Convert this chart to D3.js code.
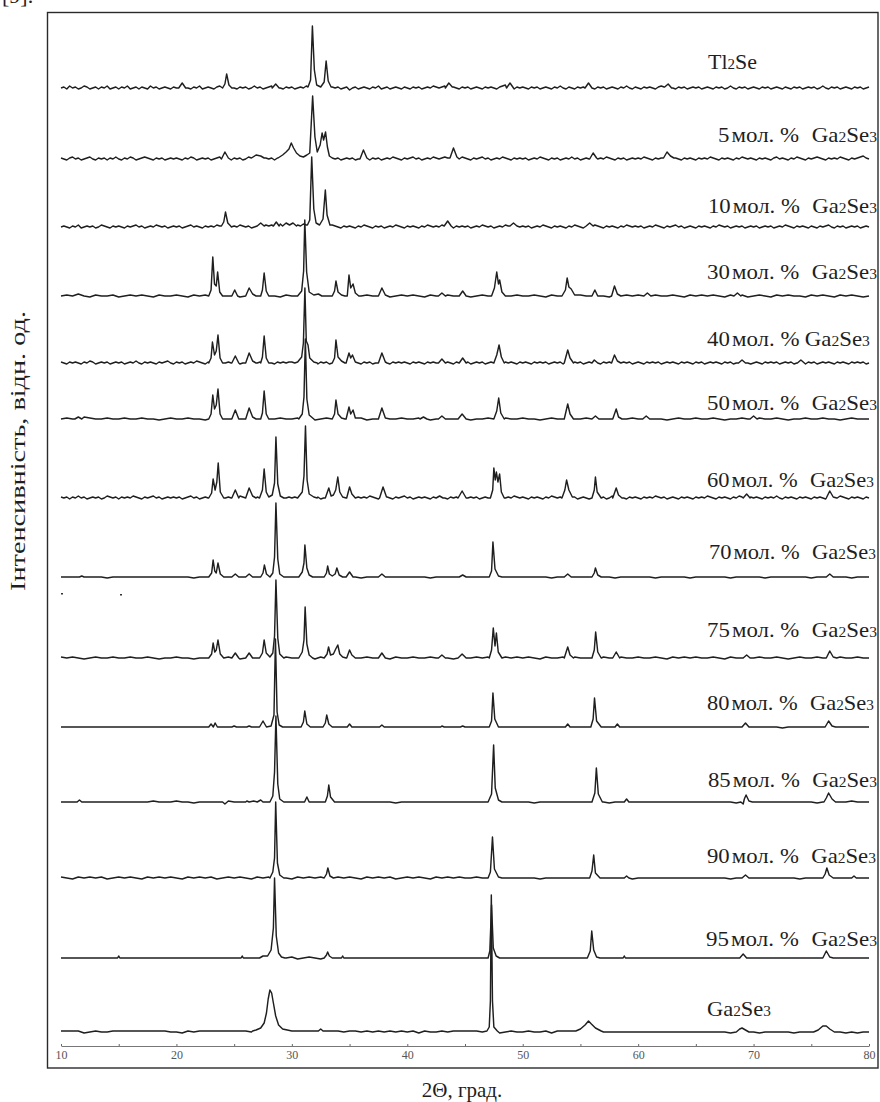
<!DOCTYPE html>
<html>
<head>
<meta charset="utf-8">
<script src="https://cdn.jsdelivr.net/npm/d3@7"></script>
<style>
  body { margin: 0; background: #fff; }
  svg { display: block; }
</style>
</head>
<body>
<svg id="chart" width="880" height="1102"></svg>
<script>
// background readings on an even grid from 10 to 80 degrees
// (141 values = 0.5 deg step, 281 values = 0.25 deg step)
const GRID_START = 10;
const GRID_END = 80;

// x-axis ticks
const X_TICKS = [10, 15, 20, 25, 30, 35, 40, 45, 50, 55, 60, 65, 70, 75, 80];
const X_TICK_LABELS = [10, 20, 30, 40, 50, 60, 70, 80];

// sample labels, top to bottom
const SAMPLE_PCT = [null, 5, 10, 30, 40, 50, 60, 70, 75, 80, 85, 90, 95, null];
const SAMPLE_PHASE = ["Tl2Se", "Ga2Se3", "Ga2Se3", "Ga2Se3", "Ga2Se3", "Ga2Se3", "Ga2Se3",
  "Ga2Se3", "Ga2Se3", "Ga2Se3", "Ga2Se3", "Ga2Se3", "Ga2Se3", "Ga2Se3"];

// ---- Tl2Se ----
const tl2seBg = [
  0,1,-1,2,0,1,-1,0,2,1,-1,0,1,-1,1,0,2,-1,0,1,
  -1,1,0,2,-1,0,1,-1,1,0,-1,2,0,1,-1,0,1,0,-1,1,
  0,2,4,1,0,-1,1,0,2,-1,0,1,0,-1,1,2,0,3,4,1,
  0,-1,1,0,1,-1,0,2,0,1,-1,0,1,2,3,1,0,-1,1,0,
  1,-1,0,1,0,2,1,0,1,2,1,0,2,3,1,0,1,-1,0,1,
  -2,0,1,-1,0,1,0,-1,1,0,2,-1,0,1,-1,0,1,0,-1,1,
  0,-1,1,0,1,-1,0,1,0,2,1,0,1,2,1,3,1,0,-1,1,
  0,1,-1,0,1,0,-1,1,0,1,0,-1,1,2,3,1,0,-1,1,0,
  1,0,-1,1,0,1,-1,0,1,0,-1,1,0,2,0,-1,1,0,-1,1,
  0,1,2,1,0,-1,1,0,1,-1,0,1,0,-1,1,0,2,0,-1,1,
  0,-1,1,0,1,0,-1,1,2,1,3,1,0,-1,1,0,1,-1,0,1,
  0,1,-1,0,1,0,-1,1,0,1,-1,0,2,0,-1,1,0,1,-1,0,
  1,0,-1,1,0,1,-1,0,1,0,-1,1,0,-1,1,0,1,-1,0,1,
  0,1,-1,0,2,0,-1,1,0,1,-1,0,1,0,-1,1,0,1,-1,0,
  1];
const tl2sePeaks = [
  [[20.2,0],[20.5,5],[20.8,0]],
  [[24.0,0],[24.2,4],[24.35,14],[24.55,3],[24.8,0]],
  [[28.3,0],[28.6,4],[28.9,0]],
  [[31.4,1],[31.62,8],[31.78,62],[31.95,18],[32.15,3],[32.5,1],[32.8,6],[32.97,27],[33.15,7],[33.4,1]],
  [[43.3,0],[43.6,5],[43.9,1]],
  [[48.6,0],[48.9,5],[49.2,0]],
  [[55.4,0],[55.7,5],[56.0,0]],
  [[62.3,1],[62.6,4],[62.9,0]]
];

// ---- 5 mol.% Ga2Se3 ----
const ga05Bg = [
  1,0,-1,1,2,0,1,-1,0,1,2,0,-1,1,0,1,-1,1,0,2,
  0,-1,1,0,2,1,-1,0,1,2,1,0,-1,1,0,1,-1,0,1,0,
  1,0,-1,1,0,2,1,-1,0,1,0,1,-1,0,1,2,0,1,0,-1,
  1,0,1,-1,0,2,1,0,3,4,2,1,0,1,-1,1,2,0,1,2,
  3,2,4,3,1,2,3,4,5,6,5,4,3,2,1,0,1,-1,0,1,
  0,1,-1,0,1,2,0,-1,1,0,1,-1,0,1,0,2,1,0,-1,1,
  0,1,2,0,1,-1,0,1,0,2,1,0,1,2,1,0,-1,1,0,2,
  1,0,-1,1,0,1,2,0,1,-1,0,1,0,2,1,0,-1,1,0,1,
  0,1,-1,0,1,0,2,1,0,-1,1,0,1,-1,0,1,0,2,0,1,
  -1,0,1,0,-1,1,0,1,0,2,1,0,-1,1,0,1,-1,0,1,0,
  1,0,2,1,0,-1,1,0,1,2,1,0,2,1,0,-1,1,0,1,0,
  -1,1,0,1,0,2,1,0,-1,1,0,1,0,-1,1,0,2,1,0,1,
  0,-1,1,0,1,0,-1,1,2,0,1,0,-1,1,0,2,1,0,-1,1,
  0,1,2,1,0,-1,1,0,1,0,2,1,0,-1,1,0,1,2,3,1,
  0];
const ga05Peaks = [
  [[23.9,0],[24.2,7],[24.5,1]],
  [[26.5,1],[26.9,4],[27.3,3],[27.6,1]],
  [[28.8,1],[29.2,4],[29.5,7],[29.75,10],[29.95,16],[30.15,11],[30.4,6],[30.7,3],[31.0,2],[31.3,4],
   [31.55,6],[31.8,63],[32.0,22],[32.2,7],[32.45,14],[32.62,26],[32.75,19],[32.92,27],[33.08,12],[33.25,3],[33.5,1]],
  [[35.9,0],[36.2,9],[36.5,1]],
  [[43.7,1],[44.0,11],[44.3,2]],
  [[55.8,0],[56.1,6],[56.4,1]],
  [[62.2,1],[62.5,7],[62.8,3],[63.1,1]]
];

// ---- 10 mol.% Ga2Se3 ----
const ga10Bg = [
  0,1,0,-1,1,0,2,-1,0,1,0,1,-1,0,2,1,0,-1,1,0,
  1,0,-1,1,0,1,2,0,1,-1,0,1,0,2,1,0,1,-1,0,1,
  0,1,-1,0,1,2,0,1,0,-1,1,0,1,0,2,1,-1,0,1,0,
  1,0,2,1,0,1,-1,0,2,1,3,2,1,2,0,1,3,2,1,2,
  2,3,2,1,3,2,4,2,3,1,2,1,0,1,2,1,0,-1,1,0,
  1,0,-1,1,0,2,1,0,-1,1,0,1,-1,0,1,0,2,1,0,-1,
  1,0,1,0,-1,1,0,2,1,0,1,0,2,3,1,0,-1,1,0,1,
  0,1,-1,0,1,0,2,1,0,1,-1,0,1,0,2,1,0,-1,1,0,
  1,0,1,-1,0,1,0,2,1,0,-1,1,0,1,0,-1,1,0,2,1,
  0,-1,1,0,1,2,1,0,-1,1,0,1,0,-1,1,0,2,1,0,1,
  0,1,-1,0,1,0,2,1,0,-1,1,0,1,2,0,1,-1,0,1,0,
  -1,1,0,1,0,-1,1,0,2,1,0,1,-1,0,1,0,1,-1,0,1,
  0,1,-1,0,1,0,1,-1,0,1,0,2,1,0,-1,1,0,1,0,-1,
  1,0,-1,1,0,1,2,0,-1,1,0,1,-1,0,1,0,1,-1,0,1,
  0];
const ga10Peaks = [
  [[23.9,1],[24.1,5],[24.25,15],[24.45,4],[24.7,1]],
  [[27.0,1],[27.3,4],[27.6,1]],
  [[28.4,1],[28.65,5],[28.9,1]],
  [[29.2,1],[29.5,4],[29.8,2],[30.1,4],[30.4,1]],
  [[31.35,2],[31.55,7],[31.72,70],[31.9,18],[32.1,4],[32.4,2],[32.7,8],[32.9,37],[33.05,12],[33.3,2]],
  [[43.2,1],[43.5,6],[43.8,1]],
  [[48.9,1],[49.2,4],[49.5,1]],
  [[55.5,1],[55.8,4],[56.1,1]]
];

// ---- 30 mol.% Ga2Se3 ----
const ga30Bg = [
  0,1,0,2,0,-1,1,0,0,1,-1,0,1,0,1,0,-1,1,0,0,
  1,0,-1,1,0,1,0,1,0,0,1,-1,0,1,0,0,1,0,-1,1,
  0,1,0,1,0,1,0,2,1,0,-1,1,0,1,0,1,0,-1,0,1,
  0,1,0,-1,1,0,0,1,0,1,0,-1,0,1,0,1,0,-1,0,1,
  0,0,1,0,-1,1,0,1,0,-1,1,0,0,1,0,-1,1,0,1,0,
  1,-1,0,1,0,0,1,0,-1,1,0,1,0,1,0,-1,1,0,1,-1,
  0,1,0,-1,1,0,1,0,0,-1,1,0,1,0,-1,1,0,1,0,-1,
  0];
const ga30Peaks = [
  [[22.8,0],[23.0,6],[23.15,39],[23.3,12],[23.45,10],[23.57,24],[23.75,4],[24.0,0]],
  [[24.8,0],[25.05,6],[25.3,0]],
  [[26.0,0],[26.3,8],[26.6,2],[26.9,0]],
  [[27.3,0],[27.45,6],[27.6,23],[27.78,5],[28.0,0]],
  [[30.5,0],[30.85,5],[31.02,25],[31.12,76],[31.28,24],[31.5,4],[31.9,1],[32.3,2],[32.6,0]],
  [[33.5,0],[33.7,5],[33.82,15],[34.0,4],[34.3,1],[34.6,0]],
  [[34.8,0],[34.95,21],[35.1,8],[35.3,12],[35.5,3],[35.8,0]],
  [[37.5,0],[37.8,8],[38.1,1]],
  [[42.7,0],[43.0,3],[43.3,0]],
  [[44.5,0],[44.8,5],[45.1,0]],
  [[47.3,0],[47.55,8],[47.75,24],[47.9,12],[48.0,16],[48.2,4],[48.5,0]],
  [[53.4,0],[53.7,6],[53.85,18],[54.0,9],[54.2,7],[54.5,1]],
  [[56.0,0],[56.25,6],[56.5,0]],
  [[57.7,0],[57.95,10],[58.2,2],[58.5,0]],
  [[60.5,0],[60.8,3],[61.1,0]],
  [[68.3,0],[68.6,3],[68.9,0]]
];

// ---- 40 mol.% Ga2Se3 ----
const ga40Bg = [
  1,0,-1,1,0,1,0,-1,1,0,2,1,-1,0,1,0,1,-1,0,1,
  0,1,-1,0,1,0,2,0,-1,1,0,1,0,-1,1,0,1,2,0,-1,
  1,0,1,-1,0,1,0,2,1,0,-1,1,0,1,0,-1,1,0,1,0,
  0,1,-1,0,1,0,1,-1,0,1,0,2,1,0,-1,1,0,1,0,1,
  1,0,-1,1,0,1,0,1,0,-1,1,0,1,-1,0,1,0,1,-1,0,
  1,0,1,0,-1,1,0,1,-1,0,1,0,1,0,-1,1,0,1,0,1,
  0,-1,1,0,1,0,-1,1,0,1,0,1,-1,0,1,0,-1,1,0,1,
  0,1,-1,0,1,0,1,-1,0,1,0,1,0,-1,1,0,1,0,-1,1,
  0,1,0,-1,1,0,1,0,1,-1,0,1,0,1,-1,0,1,0,1,0,
  1,-1,0,1,0,1,0,-1,1,0,1,0,-1,1,0,1,0,1,-1,0,
  1,0,-1,1,0,1,0,1,-1,0,1,0,1,0,-1,1,0,1,0,-1,
  1,0,1,-1,0,1,0,1,0,-1,1,0,1,-1,0,1,0,1,0,-1,
  0,1,0,-1,1,0,1,0,1,-1,0,1,0,1,-1,0,1,0,-1,1,
  0,1,-1,0,1,0,1,0,-1,1,0,1,0,-1,1,0,1,0,1,-1,
  0];
const ga40Peaks = [
  [[22.8,0],[23.0,5],[23.12,21],[23.3,8],[23.45,12],[23.6,28],[23.78,5],[24.0,0]],
  [[24.8,0],[25.1,7],[25.4,0]],
  [[26.0,0],[26.3,10],[26.6,2],[26.9,0]],
  [[27.3,0],[27.45,6],[27.6,27],[27.78,5],[28.0,0]],
  [[30.5,1],[30.85,6],[31.0,20],[31.13,75],[31.25,22],[31.4,18],[31.55,5],[31.9,1],[32.2,0]],
  [[33.5,0],[33.7,5],[33.82,23],[34.0,6],[34.3,2],[34.6,0]],
  [[34.7,0],[34.95,10],[35.1,5],[35.25,8],[35.5,1]],
  [[37.5,0],[37.8,10],[38.1,1]],
  [[42.7,0],[43.0,4],[43.3,0]],
  [[44.5,0],[44.8,5],[45.1,0]],
  [[47.5,0],[47.75,8],[47.95,18],[48.15,6],[48.4,0]],
  [[53.6,0],[53.9,13],[54.1,5],[54.4,0]],
  [[56.0,0],[56.2,3],[56.5,0]],
  [[57.7,0],[57.95,8],[58.2,2],[58.5,0]],
  [[68.7,0],[69.0,3],[69.3,0]],
  [[73.8,0],[74.1,3],[74.4,0]]
];

// ---- 50 mol.% Ga2Se3 ----
const ga50Bg = [
  0,1,0,1,2,1,0,0,1,0,0,1,0,0,1,0,0,-1,0,1,
  0,0,1,0,0,-1,0,1,0,0,1,0,-1,0,0,1,0,0,1,0,
  0,1,0,0,-1,0,1,0,0,1,0,0,1,-1,0,0,1,0,0,1,
  0,0,1,0,-1,0,1,0,0,1,0,-1,0,0,1,0,0,1,0,0,
  1,0,0,-1,0,1,0,0,1,0,0,1,0,-1,0,0,1,0,0,1,
  0,0,1,0,0,-1,0,1,0,0,1,0,0,1,0,-1,0,0,1,0,
  0,1,0,0,1,0,-1,0,0,1,0,0,1,0,0,-1,0,1,0,0,
  0];
const ga50Peaks = [
  [[11.2,0],[11.5,2],[11.8,0]],
  [[22.8,0],[23.0,5],[23.15,24],[23.3,10],[23.45,14],[23.6,30],[23.78,5],[24.0,0]],
  [[24.8,0],[25.1,9],[25.4,0]],
  [[26.0,0],[26.3,11],[26.6,2],[26.9,0]],
  [[27.3,0],[27.45,6],[27.6,28],[27.78,5],[28.0,0]],
  [[30.6,0],[30.9,5],[31.05,22],[31.17,80],[31.3,20],[31.5,4],[31.9,0]],
  [[33.5,0],[33.7,5],[33.82,19],[34.0,5],[34.3,1],[34.6,0]],
  [[34.7,0],[34.95,12],[35.1,5],[35.3,9],[35.5,1]],
  [[37.5,0],[37.8,11],[38.1,1]],
  [[41.1,0],[41.4,2],[41.7,0]],
  [[42.7,0],[43.0,3],[43.3,0]],
  [[44.4,0],[44.75,5],[45.1,0]],
  [[47.5,0],[47.75,8],[47.92,21],[48.1,6],[48.4,0]],
  [[53.6,0],[53.9,15],[54.1,5],[54.4,0]],
  [[56.0,0],[56.3,3],[56.6,0]],
  [[57.8,0],[58.1,10],[58.3,2],[58.6,0]],
  [[60.4,0],[60.7,3],[61.0,0]],
  [[69.7,0],[70.0,3],[70.3,0]]
];

// ---- 60 mol.% Ga2Se3 ----
const ga60Bg = [
  1,0,1,-1,1,0,2,0,1,-1,0,1,0,1,-1,0,2,1,0,1,
  -1,1,0,1,0,2,1,0,-1,1,0,1,2,0,1,-1,0,1,0,1,
  0,1,-1,0,1,2,0,1,-1,0,1,0,2,1,0,-1,1,0,1,0,
  1,0,2,1,0,-1,1,0,1,0,-1,1,0,2,1,0,1,-1,0,1,
  0,1,0,-1,1,0,1,2,0,1,-1,0,1,0,1,2,0,-1,1,0,
  1,0,-1,1,0,1,0,2,1,0,-1,1,0,1,0,-1,1,0,1,2,
  0,1,-1,0,1,0,1,0,-1,1,2,0,1,0,-1,1,0,1,0,1,
  -1,0,1,0,1,-1,0,1,0,2,1,0,-1,1,0,1,0,2,1,0,
  1,0,-1,1,0,1,0,-1,1,0,2,1,0,1,-1,0,1,0,1,-1,
  0,1,0,-1,1,0,1,0,1,-1,0,2,1,0,1,0,-1,1,0,1,
  0,-1,1,0,1,0,2,1,0,1,-1,0,1,0,-1,1,0,1,0,-1,
  1,0,1,0,2,1,0,-1,1,0,1,0,-1,1,0,2,1,0,-1,1,
  0,1,0,-1,1,0,1,0,2,0,-1,1,0,1,0,-1,1,0,1,0,
  -1,1,0,1,0,-1,1,0,1,0,2,1,0,-1,1,0,1,0,-1,1,
  0];
const ga60Peaks = [
  [[22.8,0],[23.05,5],[23.18,19],[23.35,8],[23.5,16],[23.62,35],[23.8,6],[24.1,0]],
  [[24.8,0],[25.1,8],[25.4,0]],
  [[26.0,0],[26.3,10],[26.6,2],[26.9,0]],
  [[27.2,0],[27.45,8],[27.6,29],[27.78,6],[28.0,1],[28.3,3],[28.5,15],[28.62,61],[28.78,14],[29.0,2],[29.3,0]],
  [[30.5,0],[30.9,6],[31.05,22],[31.18,72],[31.32,18],[31.5,4],[31.9,1],[32.2,0]],
  [[32.9,0],[33.2,10],[33.4,2],[33.6,3],[33.8,8],[33.98,21],[34.15,6],[34.4,1],[34.7,0]],
  [[34.75,0],[35.0,11],[35.2,4],[35.5,0]],
  [[37.6,0],[37.9,11],[38.2,1]],
  [[42.5,0],[42.8,2],[43.1,0]],
  [[44.4,0],[44.75,7],[45.1,0]],
  [[47.2,0],[47.4,8],[47.5,30],[47.62,18],[47.72,26],[47.85,16],[48.0,24],[48.15,6],[48.4,0]],
  [[53.4,0],[53.65,8],[53.8,18],[54.0,8],[54.3,1]],
  [[56.0,0],[56.2,8],[56.3,21],[56.45,6],[56.8,0]],
  [[57.8,0],[58.1,10],[58.3,3],[58.6,0]],
  [[69.1,0],[69.4,4],[69.7,0]],
  [[76.3,0],[76.6,7],[76.9,1],[77.2,0]]
];

// ---- 70 mol.% Ga2Se3 ----
const ga70Bg = [
  0,0,0,0,0,0,0,0,-1,0,0,0,0,0,0,0,0,0,0,0,
  0,0,0,-1,0,0,0,0,0,0,0,0,-1,0,0,0,0,0,0,0,
  0,0,0,0,0,0,0,0,0,0,0,0,-1,0,0,0,0,0,0,0,
  0,0,0,0,-1,0,0,0,0,0,0,0,0,0,0,-1,0,0,0,0,
  0,0,0,0,0,-1,0,0,0,0,0,0,0,0,0,0,-1,0,0,0,
  0,0,0,-1,0,0,0,0,0,-1,0,0,0,0,0,0,-1,0,0,0,
  0,0,-1,0,0,0,0,0,0,0,-1,0,0,0,0,0,0,-1,0,0,
  0];
const ga70Peaks = [
  [[11.6,0],[11.8,1],[12.0,0]],
  [[22.8,0],[23.05,4],[23.18,17],[23.32,6],[23.45,4],[23.6,14],[23.8,3],[24.1,0]],
  [[24.8,0],[25.1,3],[25.4,0]],
  [[26.0,0],[26.3,3],[26.6,0]],
  [[27.3,0],[27.5,4],[27.62,12],[27.8,3],[28.1,0],[28.35,4],[28.5,20],[28.62,74],[28.78,18],[28.95,3],[29.3,0]],
  [[30.6,0],[30.9,5],[31.05,14],[31.13,32],[31.3,9],[31.5,2],[31.8,0]],
  [[32.8,0],[33.0,4],[33.1,11],[33.25,3],[33.5,1],[33.75,3],[33.9,9],[34.1,2],[34.4,0]],
  [[34.7,0],[35.0,5],[35.3,0]],
  [[37.5,0],[37.8,3],[38.1,0]],
  [[44.5,0],[44.8,2],[45.1,0]],
  [[47.1,0],[47.3,6],[47.42,35],[47.6,8],[47.9,1],[48.2,0]],
  [[53.6,0],[53.9,3],[54.2,0]],
  [[56.0,0],[56.2,4],[56.3,9],[56.5,2],[56.8,0]],
  [[76.3,0],[76.6,3],[76.9,0]]
];

// ---- 75 mol.% Ga2Se3 ----
const ga75Bg = [
  1,0,1,0,-1,0,1,0,0,1,0,0,1,0,0,1,0,-1,0,0,
  1,0,0,-1,0,0,1,0,0,1,0,-1,0,1,0,0,1,0,0,1,
  0,0,1,0,-1,1,0,1,0,0,1,0,0,1,0,1,0,-1,1,0,
  0,1,0,0,1,0,1,0,-1,1,0,0,1,0,1,0,0,1,0,1,
  0,1,0,-1,1,0,0,1,0,1,0,0,1,0,1,0,-1,1,0,0,
  1,0,0,1,0,-1,1,0,1,0,1,0,0,1,0,-1,1,0,0,1,
  0,1,0,0,1,0,-1,0,1,0,0,1,0,-1,0,1,0,0,1,0,
  0];
const ga75Peaks = [
  [[22.8,0],[23.05,4],[23.18,15],[23.32,6],[23.45,8],[23.6,18],[23.8,4],[24.1,0]],
  [[24.8,0],[25.1,5],[25.4,0]],
  [[26.0,0],[26.3,5],[26.6,0]],
  [[27.2,0],[27.45,5],[27.6,18],[27.78,5],[28.1,1],[28.35,5],[28.5,22],[28.62,78],[28.78,20],[28.95,4],[29.3,0]],
  [[30.6,0],[30.9,6],[31.05,18],[31.15,51],[31.3,14],[31.5,3],[31.8,0]],
  [[32.8,0],[33.05,4],[33.18,11],[33.35,3],[33.6,4],[33.8,9],[33.98,13],[34.15,4],[34.4,1],[34.7,0]],
  [[34.75,0],[35.0,8],[35.2,3],[35.5,0]],
  [[37.5,0],[37.8,5],[38.1,0]],
  [[42.7,0],[43.0,3],[43.3,0]],
  [[44.4,0],[44.75,4],[45.1,0]],
  [[47.1,0],[47.3,8],[47.45,30],[47.6,12],[47.72,25],[47.88,6],[48.2,0]],
  [[53.6,0],[53.9,11],[54.1,3],[54.4,0]],
  [[56.0,0],[56.2,8],[56.32,26],[56.5,6],[56.8,0]],
  [[57.8,0],[58.1,6],[58.4,0]],
  [[69.1,0],[69.4,3],[69.7,0]],
  [[76.3,0],[76.6,7],[76.9,1],[77.2,0]]
];

// ---- 80 mol.% Ga2Se3 ----
const ga80Bg = [
  0,0,0,0,0,0,0,0,0,0,0,0,0,0,0,0,0,0,0,0,
  0,0,0,0,0,0,0,0,0,0,0,0,0,0,0,0,0,0,0,0,
  0,0,0,0,0,0,0,0,0,0,0,0,0,0,0,0,0,0,0,0,
  0,0,0,0,0,0,-1,0,0,0,0,0,0,0,0,0,0,0,0,0,
  0,0,0,0,0,0,0,0,0,0,0,0,0,0,0,0,0,0,0,0,
  0,0,0,0,0,0,0,0,0,0,0,0,0,0,0,0,0,0,0,0,
  0,0,0,0,0,-1,0,0,0,0,0,0,0,-2,0,0,0,0,0,0,
  0];
const ga80Peaks = [
  [[22.8,0],[23.0,3],[23.2,0],[23.35,4],[23.55,0]],
  [[24.8,0],[25.0,1],[25.2,0]],
  [[26.1,0],[26.3,1],[26.5,0]],
  [[27.2,0],[27.5,6],[27.8,0],[28.2,1],[28.45,12],[28.58,88],[28.72,15],[28.9,2],[29.2,0]],
  [[30.8,0],[31.0,5],[31.12,16],[31.3,3],[31.6,0]],
  [[32.7,0],[32.9,4],[33.02,12],[33.2,3],[33.5,0]],
  [[34.8,0],[35.0,3],[35.2,0]],
  [[37.6,0],[37.8,2],[38.0,0]],
  [[42.9,0],[43.0,1],[43.2,0]],
  [[44.6,0],[44.8,1],[45.0,0]],
  [[47.1,0],[47.3,6],[47.42,34],[47.58,8],[47.9,0]],
  [[53.7,0],[53.9,3],[54.1,0]],
  [[55.9,0],[56.1,8],[56.22,29],[56.4,6],[56.8,0]],
  [[58.0,0],[58.2,3],[58.4,0]],
  [[69.0,0],[69.3,4],[69.6,0]],
  [[76.2,0],[76.5,6],[76.8,1],[77.1,0]]
];

// ---- 85 mol.% Ga2Se3 ----
const ga85Bg = [
  0,0,0,1,0,0,0,0,0,0,0,0,0,0,0,0,1,0,0,0,
  1,0,0,-1,0,0,0,0,-1,1,0,0,0,0,0,0,0,0,0,0,
  0,0,0,0,0,0,0,0,0,0,0,0,0,0,0,0,0,0,-1,0,
  0,0,0,0,0,0,0,0,0,0,0,0,0,0,0,0,0,0,0,0,
  0,0,-1,0,0,0,0,0,0,0,0,0,0,0,0,-1,0,0,0,0,
  0,0,0,0,0,0,0,0,0,0,0,0,0,0,0,0,0,-1,0,0,
  0,0,0,0,0,0,0,0,0,0,0,-1,0,0,0,0,0,1,0,0,
  0];
const ga85Peaks = [
  [[11.4,0],[11.6,2],[11.8,0]],
  [[24.0,0],[24.2,-2],[24.4,0]],
  [[26.0,0],[26.1,1],[26.3,0],[26.7,1],[27.0,0],[27.3,2],[27.5,0]],
  [[28.1,0],[28.35,6],[28.5,30],[28.62,86],[28.78,18],[28.95,3],[29.3,0]],
  [[31.1,0],[31.3,5],[31.5,0]],
  [[32.9,0],[33.08,6],[33.2,17],[33.35,5],[33.7,0]],
  [[47.0,0],[47.3,8],[47.48,57],[47.62,14],[47.9,2],[48.2,0]],
  [[56.0,0],[56.25,9],[56.38,34],[56.55,8],[56.9,0]],
  [[58.8,0],[59.0,3],[59.2,0]],
  [[68.9,0],[69.1,-2],[69.2,3],[69.35,7],[69.6,1],[69.9,0]],
  [[76.1,0],[76.3,4],[76.5,9],[76.8,3],[77.1,0]]
];

// ---- 90 mol.% Ga2Se3 ----
const ga90Bg = [
  1,0,-1,1,0,1,0,1,-1,0,1,0,1,0,-1,1,0,1,0,1,
  0,-1,1,0,1,0,1,-1,0,1,0,1,0,-1,1,0,1,0,1,0,
  -1,1,0,1,0,1,-1,0,1,0,1,0,-1,1,0,1,0,1,-1,0,
  1,0,1,0,-1,1,0,1,0,1,0,0,1,0,0,-1,0,0,0,0,
  0,0,0,-1,0,0,0,0,0,0,0,0,0,0,0,0,0,0,0,-1,
  0,0,0,0,0,0,0,0,0,0,0,0,0,0,0,0,-1,0,0,0,
  0,0,0,0,0,0,0,0,-1,0,0,0,0,0,0,0,0,-1,0,0,
  0];
const ga90Peaks = [
  [[28.1,0],[28.35,6],[28.5,20],[28.6,76],[28.75,15],[28.95,3],[29.3,0]],
  [[32.8,0],[33.0,4],[33.12,10],[33.3,2],[33.6,0]],
  [[47.0,0],[47.2,6],[47.38,41],[47.55,9],[47.9,1],[48.2,0]],
  [[55.8,0],[56.0,7],[56.15,23],[56.3,5],[56.7,0]],
  [[58.8,0],[59.0,2],[59.2,0]],
  [[69.0,0],[69.3,3],[69.6,0]],
  [[76.0,0],[76.2,4],[76.35,10],[76.55,3],[76.9,0]],
  [[78.5,0],[78.7,2],[78.9,0]]
];

// ---- 95 mol.% Ga2Se3 ----
const ga95Bg = [
  0,0,0,0,0,0,0,0,0,0,0,0,0,0,0,0,0,0,0,0,
  0,0,0,0,0,0,0,0,0,0,0,0,0,0,0,0,0,0,0,0,
  1,-1,0,1,0,-1,0,0,0,1,0,0,0,0,0,0,0,0,0,0,
  0,0,0,0,0,0,0,0,0,0,0,0,0,0,0,0,0,0,0,0,
  0,0,0,0,0,0,0,0,0,0,0,0,0,0,0,0,0,0,0,0,
  0,0,0,0,0,0,0,0,0,0,0,0,0,0,0,0,0,0,0,0,
  0,0,0,0,0,0,0,0,0,0,0,0,0,0,0,0,0,0,0,0,
  0];
const ga95Peaks = [
  [[14.9,0],[15.0,2],[15.1,0]],
  [[25.6,0],[25.7,2],[25.8,0]],
  [[27.2,0],[27.5,2],[27.9,2],[28.2,8],[28.4,30],[28.5,80],[28.65,22],[28.85,5],[29.1,1],[29.4,0]],
  [[32.8,0],[33.0,3],[33.1,6],[33.25,2],[33.5,0]],
  [[34.3,0],[34.4,2],[34.5,0]],
  [[47.0,0],[47.15,7],[47.3,53],[47.45,10],[47.7,2],[48.0,0]],
  [[55.6,0],[55.85,7],[55.98,27],[56.15,8],[56.4,1],[56.7,0]],
  [[58.7,0],[58.8,2],[58.9,0]],
  [[68.8,0],[69.1,4],[69.4,0]],
  [[76.0,0],[76.3,7],[76.6,1],[76.9,0]]
];

// ---- Ga2Se3 ----
const ga100Bg = [
  0,0,0,0,-2,-1,0,-1,-1,0,0,0,0,0,0,0,0,0,0,-1,
  -1,-2,0,-1,0,0,0,0,0,0,0,0,0,-1,0,0,0,0,0,0,
  0,0,0,0,0,0,0,0,0,-1,0,0,-1,0,-1,0,-1,0,-1,0,
  -1,0,-2,0,-1,-1,0,-1,0,0,0,0,0,-1,0,-1,-2,-1,0,-1,
  -1,0,-1,-1,0,-2,0,0,0,0,0,0,0,0,-1,-1,-1,-1,-1,-1,
  -1,-1,-1,-1,-1,-1,-1,-1,-1,-1,-1,-1,-1,-1,-1,-1,-2,-1,-2,-1,
  -1,-2,-1,-1,-1,-1,-1,-2,-1,-1,-1,-2,-1,-2,-2,-1,-2,-1,-2,-1,
  -1];
const ga100Peaks = [
  [[26.6,0],[26.9,1],[27.3,3],[27.6,8],[27.8,18],[27.95,32],[28.1,41],[28.25,38],[28.4,28],[28.6,15],[28.85,6],[29.2,2],[29.6,1],[30.0,0]],
  [[32.3,0],[32.5,2],[32.7,0]],
  [[46.9,0],[47.1,4],[47.2,30],[47.28,136],[47.38,30],[47.5,4],[47.8,0]],
  [[54.6,0],[55.0,2],[55.4,6],[55.7,10],[55.95,7],[56.3,3],[56.8,0]],
  [[68.5,-1],[68.8,2],[69.0,3],[69.3,1],[69.6,-1]],
  [[75.2,-1],[75.6,1],[76.0,5],[76.3,5],[76.6,2],[77.0,-1]]
];

const SERIES_BG = [tl2seBg, ga05Bg, ga10Bg, ga30Bg, ga40Bg, ga50Bg, ga60Bg,
  ga70Bg, ga75Bg, ga80Bg, ga85Bg, ga90Bg, ga95Bg, ga100Bg];
const SERIES_PEAKS = [tl2sePeaks, ga05Peaks, ga10Peaks, ga30Peaks, ga40Peaks, ga50Peaks, ga60Peaks,
  ga70Peaks, ga75Peaks, ga80Peaks, ga85Peaks, ga90Peaks, ga95Peaks, ga100Peaks];

// ---- layout ----
const WIDTH = 880;
const HEIGHT = 1102;
const FRAME = { x0: 47.5, y0: 12.5, x1: 878, y1: 1068 };
const AXIS_Y = 1046;
const SERIF = "'Liberation Serif', 'Times New Roman', Times, serif";
const INK = "#1f1f1f";
// zero line of each pattern, px
const TRACE_BASELINES = [88, 159, 227, 296, 363, 419, 498, 577, 658, 727, 802, 878, 958, 1031];
// label anchor [x, baseline y, rendered width, gap before formula]
const LABEL_LAYOUT = [
  [708, 69, 49, 0], [718, 142, 159, 12], [708, 213, 169, 12], [707, 279, 170, 12],
  [707, 346, 163, 5], [707, 410, 170, 12], [707, 487, 167, 12], [709, 559, 167, 12],
  [707, 637, 170, 12], [707, 710, 167, 12], [708, 787, 169, 12], [707, 863, 169, 12],
  [706, 946, 171, 12], [707, 1016, 64, 0]
];

const svg = d3.select("#chart").attr("viewBox", `0 0 ${WIDTH} ${HEIGHT}`);
svg.append("rect").attr("width", WIDTH).attr("height", HEIGHT).attr("fill", "#fff");

const x = d3.scaleLinear().domain([10, 80]).range([61, 869]);
// intensity in arbitrary units; 1 unit = 1 px above the pattern's zero line
const y = d3.scaleLinear().domain([0, 100]).range([0, -100]);

function buildTracePoints(bg, peaks) {
  const step = (GRID_END - GRID_START) / (bg.length - 1);
  const spans = peaks.map((group) => [group[0][0], group[group.length - 1][0]]);
  const grid = bg
    .map((value, i) => [GRID_START + i * step, value])
    .filter(([t]) => !spans.some(([a, b]) => t >= a && t <= b));
  return grid.concat(...peaks).sort((a, b) => a[0] - b[0]);
}

// caption remnant cut by the top of the page
svg.append("text")
  .attr("x", 2).attr("y", 3)
  .attr("font-family", SERIF).attr("font-size", 22).attr("fill", INK)
  .text("[9].");

// frame
svg.append("rect")
  .attr("x", FRAME.x0).attr("y", FRAME.y0)
  .attr("width", FRAME.x1 - FRAME.x0).attr("height", FRAME.y1 - FRAME.y0)
  .attr("fill", "none").attr("stroke", "#2a2a2a").attr("stroke-width", 1.4);

// x axis with small inward ticks
const xAxis = d3.axisBottom(x)
  .tickValues(X_TICKS)
  .tickSizeInner(-2)
  .tickSizeOuter(0)
  .tickPadding(4)
  .tickFormat((d) => (X_TICK_LABELS.includes(d) ? d : ""));
const axisG = svg.append("g").attr("transform", `translate(0,${AXIS_Y})`).call(xAxis);
axisG.select(".domain").attr("stroke", "#777").attr("stroke-width", 1);
axisG.selectAll(".tick line").attr("stroke", "#666");
axisG.selectAll(".tick text")
  .attr("font-family", SERIF).attr("font-size", 12).attr("fill", "#555");

// patterns
const line = d3.line().x((d) => x(d[0])).y((d) => y(d[1]));
const traces = svg.append("g").attr("class", "patterns");
SERIES_BG.forEach((bg, i) => {
  traces.append("path")
    .datum(buildTracePoints(bg, SERIES_PEAKS[i]))
    .attr("transform", `translate(0,${TRACE_BASELINES[i]})`)
    .attr("d", line)
    .attr("fill", "none")
    .attr("stroke", INK)
    .attr("stroke-width", 1.45)
    .attr("stroke-linejoin", "round");
});

// stray specks in the scan
[[61, 593], [120, 594]].forEach(([sx, sy]) => {
  svg.append("rect").attr("x", sx).attr("y", sy).attr("width", 2).attr("height", 1.5).attr("fill", "#333");
});

// labels
function appendFormula(textSel, formula, big, small, firstDx) {
  formula.match(/[A-Za-z]+|\d+/g).forEach((part, k) => {
    textSel.append("tspan")
      .attr("dx", k === 0 && firstDx ? firstDx : null)
      .attr("font-size", /\d/.test(part) ? small : big)
      .text(part);
  });
}

const labels = svg.append("g").attr("class", "labels");
SAMPLE_PHASE.forEach((phase, i) => {
  const [lx, ly, lw, gap] = LABEL_LAYOUT[i];
  const pct = SAMPLE_PCT[i];
  const t = labels.append("text")
    .attr("font-family", SERIF).attr("font-size", 22).attr("fill", INK);
  if (pct !== null) {
    t.append("tspan").text(pct);
    t.append("tspan").attr("dx", 2).text("мол. %");
  }
  appendFormula(t, phase, 22, 15, gap);
  const bw = t.node().getBBox().width;
  t.attr("transform", `translate(${lx},${ly}) scale(${lw / bw},1)`);
});

// axis titles
svg.append("text")
  .attr("x", 462).attr("y", 1097)
  .attr("text-anchor", "middle")
  .attr("font-family", SERIF).attr("font-size", 21).attr("fill", INK)
  .text("2Θ, град.");

svg.append("text")
  .attr("transform", "translate(25,451) rotate(-90)")
  .attr("text-anchor", "middle")
  .attr("font-family", SERIF).attr("font-size", 22).attr("fill", INK)
  .attr("textLength", 280).attr("lengthAdjust", "spacingAndGlyphs")
  .text("Інтенсивність, відн. од.");
</script>
</body>
</html>
